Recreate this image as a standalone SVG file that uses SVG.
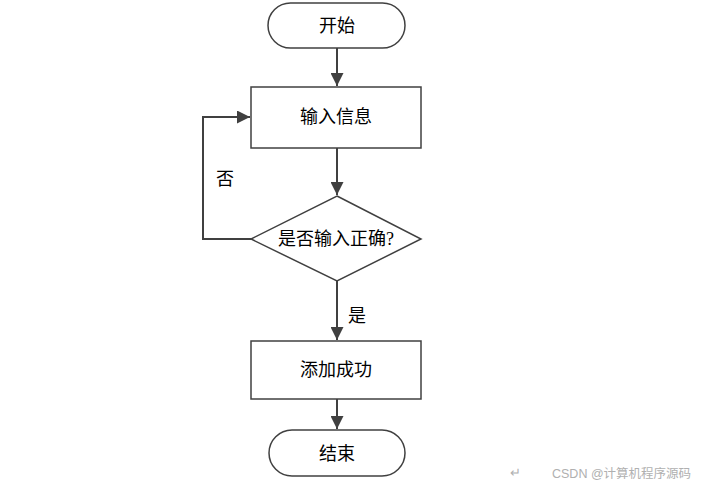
<svg xmlns="http://www.w3.org/2000/svg" width="705" height="487" viewBox="0 0 705 487">
<style>
.s{fill:#fff;stroke:#404040;stroke-width:1.5}
.c{fill:none;stroke:#404040;stroke-width:2}
.t{font-family:"Liberation Serif","Noto Sans CJK SC",serif;font-size:18px;fill:#000;text-anchor:middle;dominant-baseline:central}
.w{font-family:"Liberation Sans","Noto Sans CJK SC",sans-serif;font-size:12.5px;fill:#b0b0b0}
</style>
<defs>
<marker id="b" viewBox="0 0 10 10" refX="10" refY="5" markerWidth="6.5" markerHeight="6.5" orient="auto">
<path d="M0,0 L10,5 L0,10 z" fill="#404040"/>
</marker>
</defs>
<rect width="705" height="487" fill="#fff"/>
<g id="connectors">
<line class="c" x1="337" y1="48" x2="337" y2="86" marker-end="url(#b)"/>
<line class="c" x1="337" y1="148" x2="337" y2="195" marker-end="url(#b)"/>
<polyline class="c" points="251,239 203,239 203,117 250,117" marker-end="url(#b)"/>
<line class="c" x1="337" y1="281" x2="337" y2="340" marker-end="url(#b)"/>
<line class="c" x1="337" y1="399" x2="337" y2="429" marker-end="url(#b)"/>
<text class="t" x="225" y="179">否</text>
<text class="t" x="357" y="316">是</text>
</g>
<g id="start">
<rect class="s" x="268" y="3" width="137" height="45" rx="22.5"/>
<text class="t" x="337" y="26">开始</text>
</g>
<g id="input">
<rect class="s" x="251" y="87" width="170" height="61"/>
<text class="t" x="336" y="117">输入信息</text>
</g>
<g id="check">
<polygon class="s" points="337,196 421,239 337,281 251,239"/>
<text class="t" x="336" y="239">是否输入正确?</text>
</g>
<g id="success">
<rect class="s" x="251" y="341" width="170" height="58"/>
<text class="t" x="336" y="370">添加成功</text>
</g>
<g id="end">
<rect class="s" x="269" y="430" width="136" height="46" rx="23"/>
<text class="t" x="337" y="454">结束</text>
</g>
<text class="w" x="510" y="477">↵</text>
<text class="w" x="552" y="478">CSDN @计算机程序源码</text>
</svg>
